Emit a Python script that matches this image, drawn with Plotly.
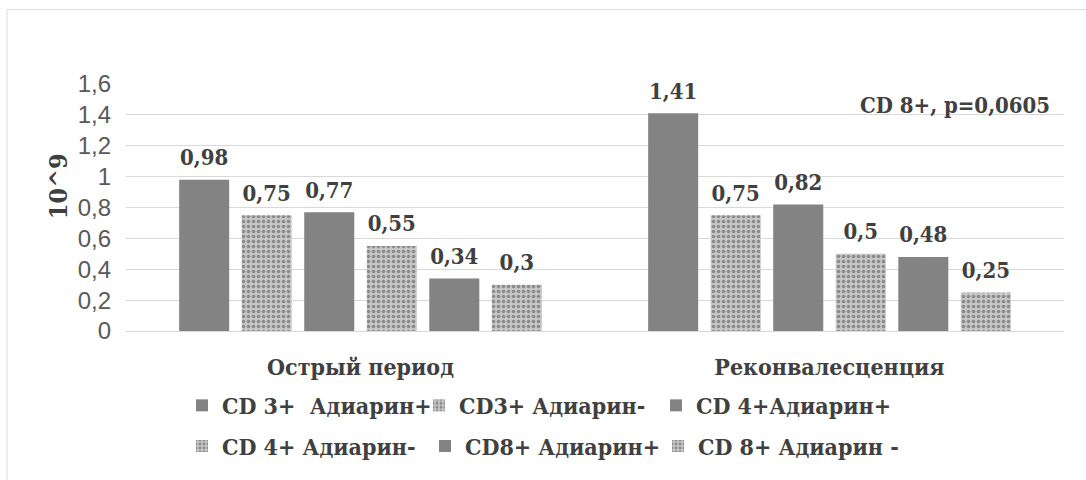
import plotly.graph_objects as go

categories = ["Острый период", "Реконвалесценция"]
series_names = ["CD 3+  Адиарин+", "CD3+ Адиарин-", "CD 4+Адиарин+",
                "CD 4+ Адиарин-", "CD8+ Адиарин+", "CD 8+ Адиарин -"]
cd3_pos = [0.98, 1.41]
cd3_neg = [0.75, 0.75]
cd4_pos = [0.77, 0.82]
cd4_neg = [0.55, 0.50]
cd8_pos = [0.34, 0.48]
cd8_neg = [0.30, 0.25]
series_values = [cd3_pos, cd3_neg, cd4_pos, cd4_neg, cd8_pos, cd8_neg]
tick_vals = [0, 0.2, 0.4, 0.6, 0.8, 1.0, 1.2, 1.4, 1.6]
tick_labels = ["0", "0,2", "0,4", "0,6", "0,8", "1", "1,2", "1,4", "1,6"]
y_title = "10^9"
note = "CD 8+, p=0,0605"

W, H = 1086, 480
L, R, T, B = 126, 22, 84, 147
PW, PH = W - L - R, H - T - B


def px_x(x):
    return (x - L) / PW


def px_y(y):
    return (H - B - y) / PH


TXT = "#404040"
COND = "DejaVu Serif Condensed"


def sfont(size, fam=COND, w="bold"):
    return dict(family=fam, size=size, color=TXT, weight=w)


legend_ids = ["legend", "legend2", "legend3", "legend4", "legend5", "legend6"]
# left edge (px) and row centre (px) of each legend entry
legend_pos = [(182, 408), (419, 408), (656, 408),
              (182, 449), (425, 449), (658, 449)]

fig = go.Figure()
for i, (name, vals) in enumerate(zip(series_names, series_values)):
    positive = (i % 2 == 0)
    if positive:
        marker = dict(color="#838383", line=dict(width=0))
    else:
        marker = dict(color="#bdbdbd", line=dict(width=0),
                      pattern=dict(shape=".", fgcolor="#4d4d4d", bgcolor="#c6c6c6",
                                   size=5, solidity=0.4, fillmode="overlay"))
    fig.add_trace(go.Bar(
        x=categories, y=vals, name=name, marker=marker,
        offsetgroup=str(i), hoverinfo="y",
        legend=legend_ids[i],
    ))

# value labels, grouped like the bars
for i, vals in enumerate(series_values):
    fig.add_trace(go.Scatter(
        x=categories, y=vals, mode="markers+text",
        offsetgroup=str(i), showlegend=False, hoverinfo="skip",
        marker=dict(size=13, color="rgba(0,0,0,0)"),
        text=[f"{v:g}".replace(".", ",") for v in vals],
        textposition="top center", cliponaxis=False,
        textfont=sfont(22),
    ))

legends = {}
for lid, (lx, ly) in zip(legend_ids, legend_pos):
    legends[lid] = dict(x=px_x(lx), y=px_y(ly), orientation="h",
                        xanchor="left", yanchor="middle", font=sfont(23),
                        bgcolor="rgba(0,0,0,0)", itemclick=False)

fig.update_layout(
    width=W, height=H,
    margin=dict(l=L, r=R, t=T, b=B),
    paper_bgcolor="white", plot_bgcolor="white",
    barmode="group", bargap=0.2, bargroupgap=0.2,
    scattermode="group", scattergap=0.2,
    separators=", ",
    showlegend=True,
    xaxis=dict(showgrid=False, showline=False, ticks="",
               tickfont=sfont(23),
               ticklabelstandoff=20),
    yaxis=dict(range=[0, 1.6], tickvals=tick_vals, ticktext=tick_labels,
               showgrid=True, gridcolor="#d9d9d9", gridwidth=1,
               zeroline=True, zerolinecolor="#d9d9d9", zerolinewidth=1,
               showline=False, ticks="",
               tickfont=dict(family="Liberation Sans", size=24, color="#595959"),
               ticklabelstandoff=14),
    annotations=[
        dict(text=y_title, textangle=-90, x=px_x(58), y=px_y(187),
             xref="paper", yref="paper", showarrow=False,
             xanchor="center", yanchor="middle",
             font=sfont(25)),
        dict(text=note, x=px_x(1052), y=px_y(105),
             xref="paper", yref="paper", showarrow=False,
             xanchor="right", yanchor="middle",
             font=sfont(22)),
    ],
    shapes=[dict(type="rect", xref="paper", yref="paper",
                 x0=px_x(7), x1=px_x(1200), y0=px_y(600), y1=px_y(9),
                 line=dict(color="#d9d9d9", width=1), fillcolor="rgba(0,0,0,0)",
                 layer="below")],
    **legends,
)

fig.write_html("out.html")
